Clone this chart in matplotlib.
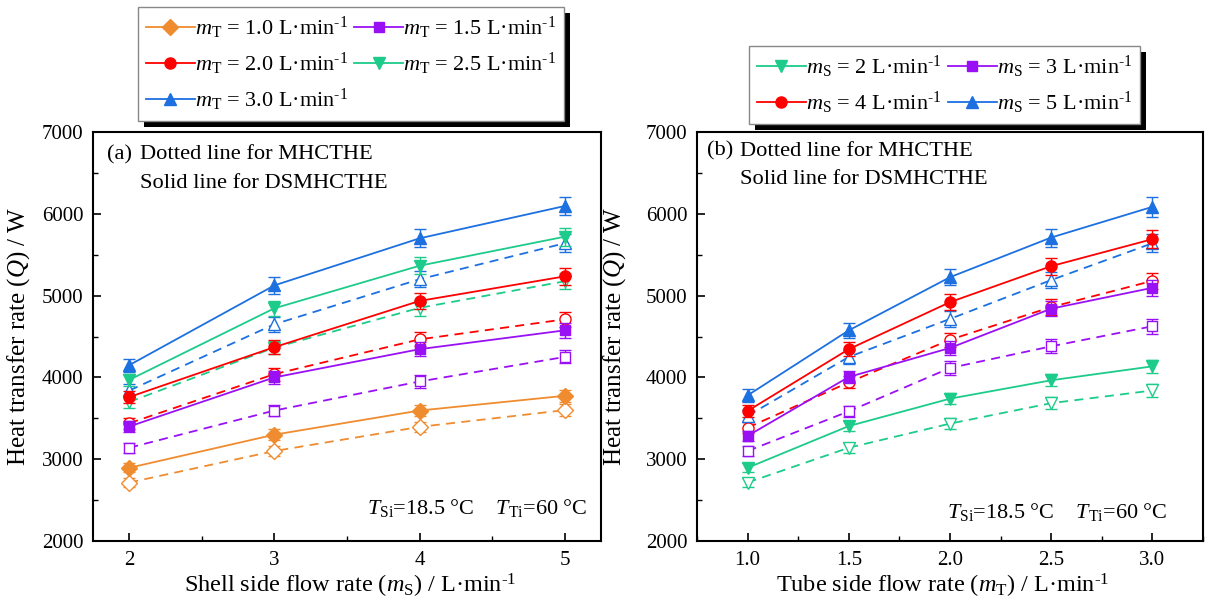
import matplotlib
matplotlib.use('Agg')
import matplotlib.pyplot as plt
from matplotlib.lines import Line2D
import matplotlib.patheffects as pe
from matplotlib.ticker import MultipleLocator

plt.rcParams['font.family'] = ['Liberation Serif', 'DejaVu Serif']
plt.rcParams['mathtext.fontset'] = 'custom'
plt.rcParams['mathtext.rm'] = 'Liberation Serif'
plt.rcParams['mathtext.it'] = 'Liberation Serif:italic'
plt.rcParams['mathtext.bf'] = 'Liberation Serif:bold'

# ---------------- Panel (a): x = shell side flow rate ----------------
ms_x = [2, 3, 4, 5]
mt_names = ['1.0', '1.5', '2.0', '2.5', '3.0']
# DSMHCTHE (solid) values
a_solid_10 = [2895, 3300, 3595, 3775]
a_solid_15 = [3400, 4000, 4345, 4575]
a_solid_20 = [3760, 4370, 4935, 5235]
a_solid_25 = [3970, 4845, 5365, 5720]
a_solid_30 = [4150, 5125, 5700, 6095]
# MHCTHE (dashed) values
a_dash_10 = [2715, 3100, 3395, 3600]
a_dash_15 = [3140, 3595, 3950, 4250]
a_dash_20 = [3440, 4040, 4465, 4710]
a_dash_25 = [3700, 4365, 4850, 5175]
a_dash_30 = [3840, 4650, 5200, 5640]
# error bars
a_err_solid_10 = [55, 65, 70, 75]
a_err_solid_15 = [65, 75, 85, 90]
a_err_solid_20 = [70, 85, 95, 100]
a_err_solid_25 = [75, 95, 105, 110]
a_err_solid_30 = [80, 100, 110, 115]
a_err_dash_10 = [50, 60, 65, 70]
a_err_dash_15 = [60, 70, 75, 80]
a_err_dash_20 = [65, 80, 85, 90]
a_err_dash_25 = [70, 85, 95, 100]
a_err_dash_30 = [75, 90, 100, 110]

# ---------------- Panel (b): x = tube side flow rate ----------------
mt_x = [1.0, 1.5, 2.0, 2.5, 3.0]
ms_names = ['2', '3', '4', '5']
b_solid_2 = [2895, 3405, 3740, 3965, 4135]
b_solid_3 = [3285, 4005, 4360, 4840, 5095]
b_solid_4 = [3590, 4345, 4920, 5360, 5690]
b_solid_5 = [3780, 4575, 5225, 5710, 6085]
b_dash_2 = [2715, 3140, 3435, 3685, 3840]
b_dash_3 = [3100, 3585, 4115, 4380, 4625]
b_dash_4 = [3385, 3940, 4460, 4860, 5180]
b_dash_5 = [3530, 4250, 4715, 5190, 5640]
b_err_solid_2 = [55, 65, 70, 75, 80]
b_err_solid_3 = [60, 75, 85, 95, 100]
b_err_solid_4 = [70, 85, 95, 105, 110]
b_err_solid_5 = [75, 90, 100, 110, 120]
b_err_dash_2 = [50, 60, 65, 70, 75]
b_err_dash_3 = [60, 70, 80, 85, 90]
b_err_dash_4 = [65, 75, 85, 95, 100]
b_err_dash_5 = [70, 85, 95, 100, 110]

ORANGE = '#F08C30'
PURPLE = '#9A10F5'
RED = '#FF0000'
GREEN = '#1DCB8A'
BLUE = '#1C70E0'

a_series = [
    (mt_names[0], a_solid_10, a_err_solid_10, a_dash_10, a_err_dash_10, ORANGE, 'D'),
    (mt_names[1], a_solid_15, a_err_solid_15, a_dash_15, a_err_dash_15, PURPLE, 's'),
    (mt_names[2], a_solid_20, a_err_solid_20, a_dash_20, a_err_dash_20, RED, 'o'),
    (mt_names[3], a_solid_25, a_err_solid_25, a_dash_25, a_err_dash_25, GREEN, 'v'),
    (mt_names[4], a_solid_30, a_err_solid_30, a_dash_30, a_err_dash_30, BLUE, '^'),
]
b_series = [
    (ms_names[0], b_solid_2, b_err_solid_2, b_dash_2, b_err_dash_2, GREEN, 'v'),
    (ms_names[1], b_solid_3, b_err_solid_3, b_dash_3, b_err_dash_3, PURPLE, 's'),
    (ms_names[2], b_solid_4, b_err_solid_4, b_dash_4, b_err_dash_4, RED, 'o'),
    (ms_names[3], b_solid_5, b_err_solid_5, b_dash_5, b_err_dash_5, BLUE, '^'),
]

W, H = 1205, 611
fig = plt.figure(figsize=(W / 100, H / 100), dpi=100)

def px_axes(x0, x1, y0, y1):
    return fig.add_axes([x0 / W, 1 - y1 / H, (x1 - x0) / W, (y1 - y0) / H])

axA = px_axes(93, 601, 132, 541)
axB = px_axes(697, 1203, 132, 541)

LW = 1.3
DASH = (0, (5, 3.5))

def msize(m):
    return {'D': 8, 's': 7.5, 'o': 8, 'v': 9, '^': 9}[m]

def draw(ax, x, series):
    for name, ys, es, yd, ed, c, m in series:
        ax.errorbar(x, yd, yerr=ed, color=c, ls=DASH, lw=LW, marker=m, ms=msize(m),
                    mfc='white', mec=c, mew=1.0, capsize=4, elinewidth=1.0, capthick=1.0, zorder=2)
        ax.errorbar(x, ys, yerr=es, color=c, ls='-', lw=LW, marker=m, ms=msize(m),
                    mfc=c, mec=c, mew=1.0, capsize=4, elinewidth=1.0, capthick=1.0, zorder=3)

draw(axA, ms_x, a_series)
draw(axB, mt_x, b_series)

UNIT = r'L·min$^{\text{-}1}$'
XLABEL_FS = 17.5
YLABEL_FS = 18
TICK_FS = 15
for ax in (axA, axB):
    ax.set_ylim(2000, 7000)
    ax.yaxis.set_major_locator(MultipleLocator(1000))
    ax.yaxis.set_minor_locator(MultipleLocator(500))
    ax.tick_params(axis='both', which='major', direction='in', length=6, width=1.2,
                   labelsize=TICK_FS, pad=7)
    ax.tick_params(axis='both', which='minor', direction='in', length=3.5, width=1.0)
    ax.tick_params(top=False, right=False, which='both')
    for sp in ax.spines.values():
        sp.set_linewidth(1.5)
    ax.set_ylabel(r'Heat transfer rate ($Q$) / W', fontsize=YLABEL_FS)

axA.set_xlim(1.75, 5.25)
axA.set_xticks(ms_x)
axA.xaxis.set_minor_locator(MultipleLocator(0.5))
axA.set_xlabel(r'Shell side flow rate ($m_\mathrm{S}$) / ' + UNIT, fontsize=XLABEL_FS)

axB.set_xlim(0.75, 3.25)
axB.set_xticks(mt_x)
axB.set_xticklabels(['%.1f' % v for v in mt_x])
axB.xaxis.set_minor_locator(MultipleLocator(0.25))
axB.set_xlabel(r'Tube side flow rate ($m_\mathrm{T}$) / ' + UNIT, fontsize=XLABEL_FS)

axA.yaxis.set_label_coords(-0.12, 0.5)
axB.yaxis.set_label_coords(-0.136, 0.5)
axA.xaxis.set_label_coords(0.506, -0.076)
axB.xaxis.set_label_coords(0.486, -0.076)

ANN_FS = 16.2
for ax, tag, xt, y1, y2, tx, ty in [(axA, '(a)', 0.028, 0.944, 0.875, 0.974, 0.081),
                                     (axB, '(b)', 0.020, 0.953, 0.885, 0.929, 0.071)]:
    ax.text(xt, y1, tag, transform=ax.transAxes, fontsize=ANN_FS, va='center', ha='left')
    ax.text(xt + 0.065, y1, 'Dotted line for MHCTHE', transform=ax.transAxes,
            fontsize=ANN_FS, va='center', ha='left')
    ax.text(xt + 0.065, y2, 'Solid line for DSMHCTHE', transform=ax.transAxes,
            fontsize=ANN_FS, va='center', ha='left')
    ax.text(tx, ty, r'$T_\mathrm{Si}$=18.5 °C    $T_\mathrm{Ti}$=60 °C', transform=ax.transAxes,
            fontsize=16, va='center', ha='right')

def add_legend(series, sub, order, x, y):
    hs, ls = [], []
    for i in order:
        name, ys, es, yd, ed, c, m = series[i]
        hs.append(Line2D([], [], color=c, lw=LW, marker=m, ms=msize(m), mfc=c, mec=c))
        ls.append(r'$m_\mathrm{%s}$ = %s ' % (sub, name) + UNIT)
    leg = fig.legend(hs, ls, loc='upper left', bbox_to_anchor=(x / W, 1 - y / H),
                     ncol=2, fontsize=16, frameon=True, fancybox=False, shadow=False,
                     framealpha=1.0, facecolor='white',
                     handlelength=2.2, handletextpad=0.0, columnspacing=0.3,
                     borderpad=0.35, labelspacing=0.45, borderaxespad=0.0)
    fr = leg.get_frame()
    fr.set_edgecolor('#888888')
    fr.set_linewidth(1.0)
    fr.set_path_effects([pe.SimplePatchShadow(offset=(4, -4), shadow_rgbFace='black', alpha=1.0),
                         pe.Normal()])
    return leg

# row-wise order rendered in column-major legend
add_legend(a_series, 'T', [0, 2, 4, 1, 3], 138, 7)
add_legend(b_series, 'S', [0, 2, 1, 3], 749, 46)

fig.savefig('out.png', dpi=100)
